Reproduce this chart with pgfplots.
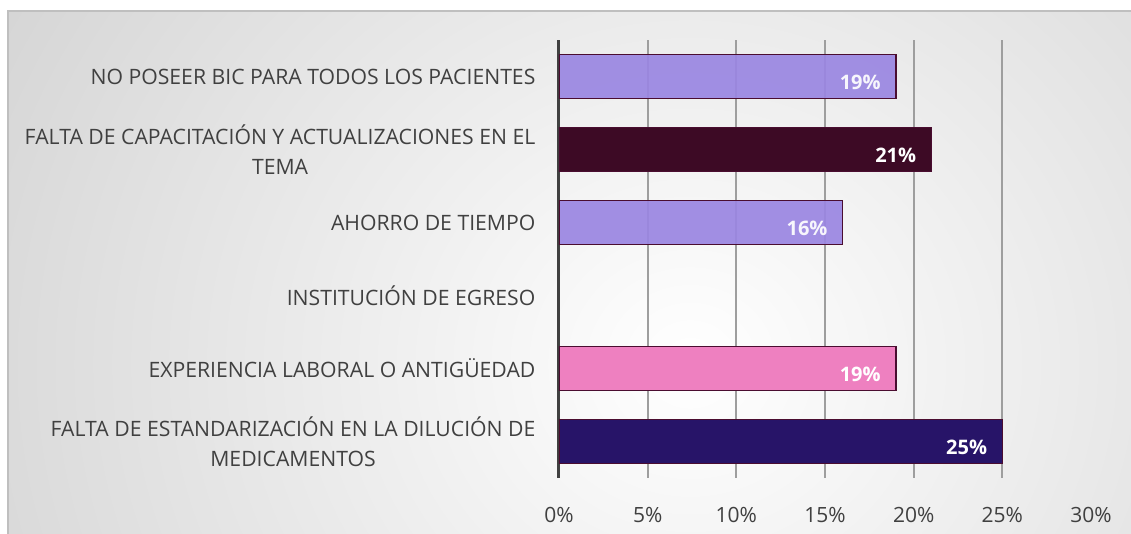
\documentclass[border=0pt]{standalone}
\usepackage{pgfplots}
\pgfplotsset{compat=1.18}
\usepackage{fontspec}
\setmainfont{Open Sans}
\definecolor{lav}{HTML}{9A86E2}
\definecolor{maroon}{HTML}{3D0A25}
\definecolor{pinkb}{HTML}{EE80C0}
\definecolor{navy}{HTML}{271468}
\definecolor{edge}{HTML}{4A0D30}
\definecolor{labtxt}{HTML}{404040}
\begin{document}
\begin{tikzpicture}
% background panel
\path[use as bounding box] (0,0) rectangle (565.5pt,267pt);
\begin{scope}
\clip (4pt,0) rectangle (565.5pt,261.5pt);
\shade[inner color=white, outer color=black!24] (345pt,85pt) ellipse [x radius=580pt, y radius=540pt];
\end{scope}
\draw[black!25, line width=0.8pt] (4pt,0) -- (4pt,261.5pt) -- (565.5pt,261.5pt);
\begin{axis}[
  at={(279.5pt,28pt)}, anchor=south west,
  scale only axis, width=266pt, height=219pt,
  xbar, bar width=22pt, /pgf/bar shift=0pt,
  xmin=0, xmax=30, ymin=-0.5, ymax=5.5,
  xtick={5,10,...,25},
  extra x ticks={0,30},
  extra x tick style={grid=none},
  xticklabel={\pgfmathprintnumber{\tick}\%},
  /pgf/number format/assume math mode=true,
  ytick={0,1,2,3,4,5},
  yticklabels={{FALTA DE ESTANDARIZACIÓN EN LA DILUCIÓN DE\\MEDICAMENTOS},
    {EXPERIENCIA LABORAL O ANTIGÜEDAD},
    {INSTITUCIÓN DE EGRESO},
    {AHORRO DE TIEMPO},
    {FALTA DE CAPACITACIÓN Y ACTUALIZACIONES EN EL\\TEMA},
    {NO POSEER BIC PARA TODOS LOS PACIENTES}},
  yticklabel style={align=center, font=\fontsize{10.6}{15}\selectfont, text=labtxt, xshift=-4pt},
  xticklabel style={font=\fontsize{10.5}{12}\selectfont, text=labtxt, yshift=-11pt},
  tick style={draw=none},
  axis x line*=bottom, axis y line*=left,
  x axis line style={draw=none},
  y axis line style={draw=black!75, line width=1.5pt},
  xmajorgrids, grid style={draw=black!38, line width=1pt},
  nodes near coords={\pgfmathprintnumber{\pgfplotspointmeta}\%},
  nodes near coords style={anchor=east, xshift=-4pt, yshift=-3pt, text=white, font=\fontsize{10}{12}\selectfont\bfseries},
  every axis plot/.append style={draw=edge, line width=0.6pt},
]
\addplot[fill=navy] coordinates {(25,0)};
\addplot[fill=pinkb] coordinates {(19,1)};
\addplot[fill=lav, fill opacity=0.92] coordinates {(16,3)};
\addplot[fill=maroon] coordinates {(21,4)};
\addplot[fill=lav, fill opacity=0.92] coordinates {(19,5)};
\end{axis}
\end{tikzpicture}
\end{document}
